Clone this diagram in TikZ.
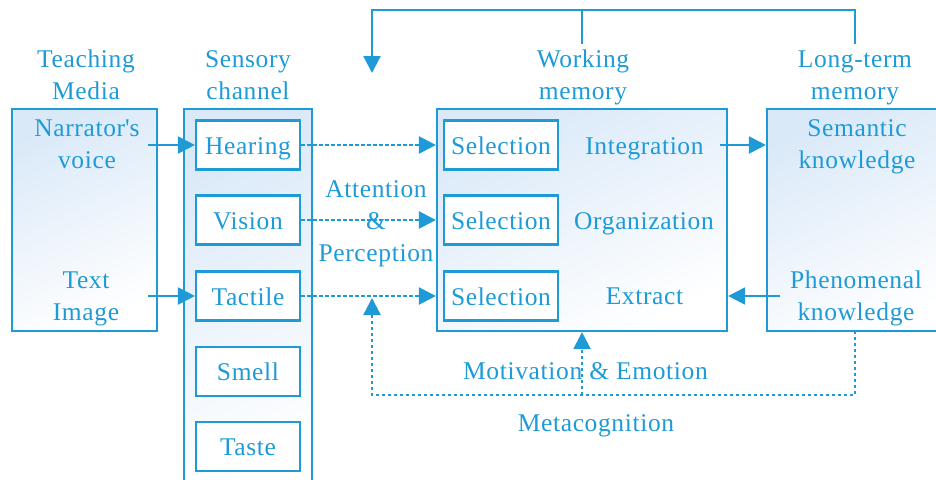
\documentclass[tikz,border=0pt]{standalone}
\usepackage{fontspec}
\setmainfont{Liberation Serif}[LetterSpace=2.5]
\usetikzlibrary{arrows.meta}
\definecolor{lineblue}{RGB}{30,155,215}
\definecolor{tintblue}{RGB}{218,233,248}
\begin{document}
\begin{tikzpicture}[x=1pt,y=-1pt,
  every node/.style={text=lineblue, font=\fontsize{25.5}{32}\selectfont},
  panel/.style={draw=lineblue, line width=2.2pt, inner sep=0pt,
    top color=tintblue, bottom color=white, shading angle=25},
  cell/.style={draw=lineblue, line width=2.2pt, fill=white, inner sep=0pt,
    minimum height=49pt, text height=18pt, text depth=0pt},
  sense/.style={cell, minimum width=104pt},
  select/.style={cell, minimum width=114pt},
  label/.style={align=center, anchor=base, inner sep=0pt},
  link/.style={draw=lineblue, line width=2.2pt},
  arr/.style={link, -{Triangle[length=17pt,width=17pt]}},
  dotlink/.style={link, line width=2.3pt, dash pattern=on 3.4pt off 2.6pt},
  dotarr/.style={dotlink, -{Triangle[length=17pt,width=17pt]}}]

\useasboundingbox (0,0) rectangle (936,479);
\clip (0,0) rectangle (936,479);

% column headings (anchored on the baseline of their last line)
\node[label] (hmedia) at (86,99)  {Teaching\\Media};
\node[label] (hsense) at (248,99) {Sensory\\channel};
\node[label] (hwm)    at (583,99) {Working\\memory};
\node[label] (hltm)   at (855,99) {Long-term\\memory};

% outer panels
\node[panel, minimum width=145pt, minimum height=222pt] (media) at (84.5,220) {};
\node[panel, minimum width=128pt, minimum height=391pt] (sensory) at (248,304.5) {};
\node[panel, minimum width=290pt, minimum height=222pt] (wm) at (582,220) {};
\node[panel, minimum width=193pt, minimum height=222pt] (ltm) at (863.5,220) {};

% teaching media contents
\node[label] (voice)   at (87,168) {Narrator\textquotesingle s\\voice};
\node[label] (textimg) at (86,320) {Text\\Image};

% sensory channels
\node[sense] (hearing) at (248,145)   {Hearing};
\node[sense] (vision)  at (248,220)   {Vision};
\node[sense] (tactile) at (248,296)   {Tactile};
\node[sense] (smell)   at (248,371.5) {Smell};
\node[sense] (taste)   at (248,446.5) {Taste};

% working memory contents
\node[select] (sel1) at (501,145) {Selection};
\node[select] (sel2) at (501,220) {Selection};
\node[select] (sel3) at (501,296) {Selection};
\node[label] (integ) at (644.5,154) {Integration};
\node[label] (organ) at (644,229)   {Organization};
\node[label] (extr)  at (644.5,304) {Extract};

% long-term memory contents
\node[label] (semantic) at (857,168) {Semantic\\knowledge};
\node[label] (phenom)   at (856,320) {Phenomenal\\knowledge};

% media to senses
\coordinate (voiceOut) at (148,145);
\coordinate (textOut)  at (148,296);
\draw[arr] (voiceOut) -- (hearing.west);
\draw[arr] (textOut) -- (tactile.west);

% senses to working memory
\draw[dotarr] (hearing.east) -- (hearing.east -| wm.west);
\draw[dotarr] (vision.east)  -- (vision.east -| wm.west);
\draw[dotarr] (tactile.east) -- (tactile.east -| wm.west);
\node[label] (attn) at (376,261) {Attention\\\&\\Perception};

% working memory <-> long-term memory
\coordinate (integOut) at (720,145);
\coordinate (phenOut)  at (780,296);
\draw[arr] (integOut) -- (integOut -| ltm.west);
\draw[arr] (phenOut) -- (phenOut -| wm.east);

% feedback along the top
\coordinate (topRail) at (0,10);
\coordinate (ltmUp) at (855,44);
\coordinate (wmUp)  at (582,44);
\coordinate (backIn) at (372,73);
\draw[arr] (ltmUp) -- (ltmUp |- topRail) -- (backIn |- topRail) -- (backIn);
\draw[link] (wmUp) -- (wmUp |- topRail);

% metacognition loop along the bottom
\coordinate (baseRail) at (0,395);
\coordinate (ltmDown) at (855,331);
\coordinate (attnIn)  at (372,298);
\draw[dotarr] (ltmDown) -- (ltmDown |- baseRail) -- (attnIn |- baseRail) -- (attnIn);
\draw[dotarr] (wm.south |- baseRail) -- (wm.south);
\node[label] (motiv) at (585.5,379) {Motivation \& Emotion};
\node[label] (meta)  at (596,431)   {Metacognition};

\end{tikzpicture}
\end{document}
